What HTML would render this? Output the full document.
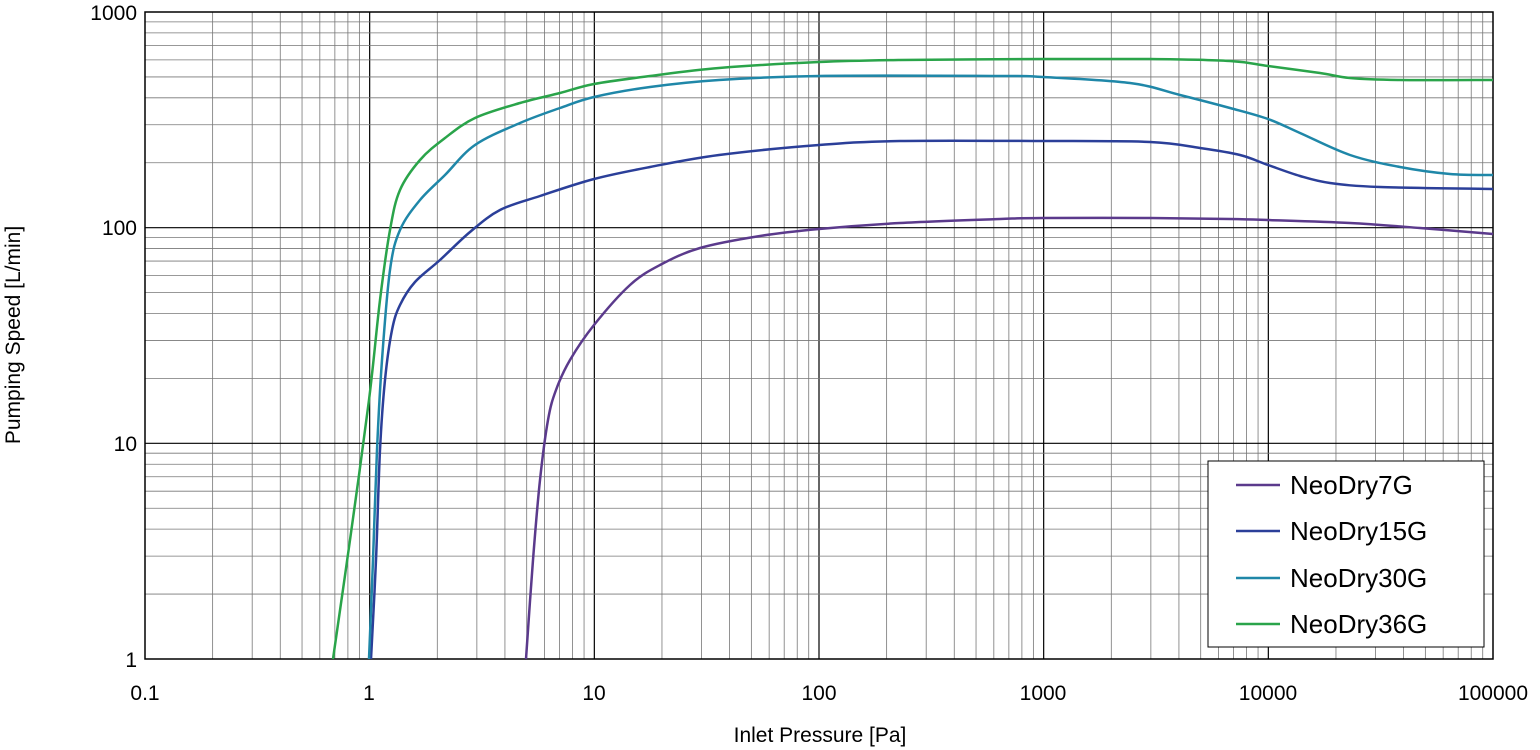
<!DOCTYPE html>
<html><head><meta charset="utf-8"><style>
html,body{margin:0;padding:0;background:#fff;}
svg{display:block;font-family:"Liberation Sans",sans-serif;}
</style></head><body>
<svg id="s" width="1540" height="750" viewBox="0 0 1540 750" xmlns="http://www.w3.org/2000/svg">
<g id="grid"></g>
<rect x="145" y="12" width="1348" height="647" fill="none" stroke="#000" stroke-width="1.5"/>
<g font-size="21" fill="#000" text-anchor="middle">
<text x="145" y="700">0.1</text><text x="369" y="700">1</text><text x="594" y="700">10</text>
<text x="819" y="700">100</text><text x="1043" y="700">1000</text><text x="1268" y="700">10000</text><text x="1493" y="700">100000</text>
</g>
<g font-size="21" fill="#000" text-anchor="end">
<text x="137" y="20">1000</text><text x="137" y="235">100</text><text x="137" y="451">10</text><text x="137" y="667">1</text>
</g>
<text x="820" y="742" font-size="21" text-anchor="middle">Inlet Pressure [Pa]</text>
<text transform="translate(20,335) rotate(-90)" font-size="21" text-anchor="middle">Pumping Speed [L/min]</text>
<g fill="none" stroke-width="2.5" stroke-linejoin="round">
<path id="p1" stroke="#5b3a8c"/>
<path id="p2" stroke="#2b3f99"/>
<path id="p3" stroke="#1f87a8"/>
<path id="p4" stroke="#2aa44a"/>
</g>
<rect x="1208" y="461" width="276" height="186" fill="#fff" stroke="#000" stroke-width="1"/>
<g stroke-width="2.5">
<line x1="1236" y1="485" x2="1280" y2="485" stroke="#5b3a8c"/>
<line x1="1236" y1="531" x2="1280" y2="531" stroke="#2b3f99"/>
<line x1="1236" y1="578" x2="1280" y2="578" stroke="#1f87a8"/>
<line x1="1236" y1="624" x2="1280" y2="624" stroke="#2aa44a"/>
</g>
<g font-size="26" fill="#000">
<text x="1290" y="494">NeoDry7G</text><text x="1290" y="540">NeoDry15G</text>
<text x="1290" y="587">NeoDry30G</text><text x="1290" y="633">NeoDry36G</text>
</g>
</svg>
<script>
var NS="http://www.w3.org/2000/svg",g=document.getElementById("grid");
function ln(x1,y1,x2,y2,c,w){var l=document.createElementNS(NS,"line");l.setAttribute("x1",x1);l.setAttribute("y1",y1);l.setAttribute("x2",x2);l.setAttribute("y2",y2);l.setAttribute("stroke",c);l.setAttribute("stroke-width",w);g.appendChild(l);}
var x0=145,dx=(1493-145)/6,y0=659,dy=(659-12)/3;
for(var d=0;d<6;d++)for(var k=2;k<10;k++){var x=x0+dx*(d+Math.log10(k));ln(x,12,x,659,"#777",0.8);}
for(var d=1;d<6;d++){var x=x0+dx*d;ln(x,12,x,659,"#000",1.2);}
for(var d=0;d<3;d++)for(var k=2;k<10;k++){var y=y0-dy*(d+Math.log10(k));ln(145,y,1493,y,"#777",0.8);}
for(var d=1;d<3;d++){var y=y0-dy*d;ln(145,y,1493,y,"#000",1.2);}
function P(id,pts){var s="M"+pts[0][0]+","+pts[0][1];for(var i=1;i<pts.length;i++){var p0=pts[Math.max(i-2,0)],p1=pts[i-1],p2=pts[i],p3=pts[Math.min(i+1,pts.length-1)];
s+=" C"+(p1[0]+(p2[0]-p0[0])/6)+","+(p1[1]+(p2[1]-p0[1])/6)+" "+(p2[0]-(p3[0]-p1[0])/6)+","+(p2[1]-(p3[1]-p1[1])/6)+" "+p2[0]+","+p2[1];}
document.getElementById(id).setAttribute("d",s);}
P("p1",[[526,659],[533,560],[540,480],[548,420],[556,390],[570,360],[594,325],[630,285],[660,265],[700,248],[760,236],[819,229],[900,223],[1000,219],[1043,218],[1150,218],[1230,219],[1268,220],[1350,223],[1420,228],[1493,234]]);
P("p2",[[371,659],[376,560],[380,450],[385,380],[392,330],[400,305],[415,282],[440,260],[470,232],[500,210],[540,196],[594,179],[650,167],[719,155],[819,145],[900,141],[1043,141],[1150,142],[1200,148],[1240,155],[1268,165],[1300,176],[1330,183],[1380,187],[1493,189]]);
P("p3",[[369,659],[373,560],[377,450],[382,360],[390,270],[400,230],[420,200],[445,175],[475,145],[520,123],[560,108],[594,97],[650,87],[719,80],[819,76],[1000,76],[1043,77],[1130,83],[1180,95],[1230,108],[1268,119],[1300,133],[1350,155],[1400,167],[1450,174],[1493,175]]);
P("p4",[[333,659],[350,540],[369,400],[380,300],[390,230],[400,190],[420,160],[445,138],[475,118],[520,103],[560,93],[594,84],[650,76],[719,68],[819,62],[900,60],[1043,59],[1150,59],[1230,61],[1268,66],[1320,73],[1350,78],[1400,80],[1493,80]]);
</script>
</body></html>
